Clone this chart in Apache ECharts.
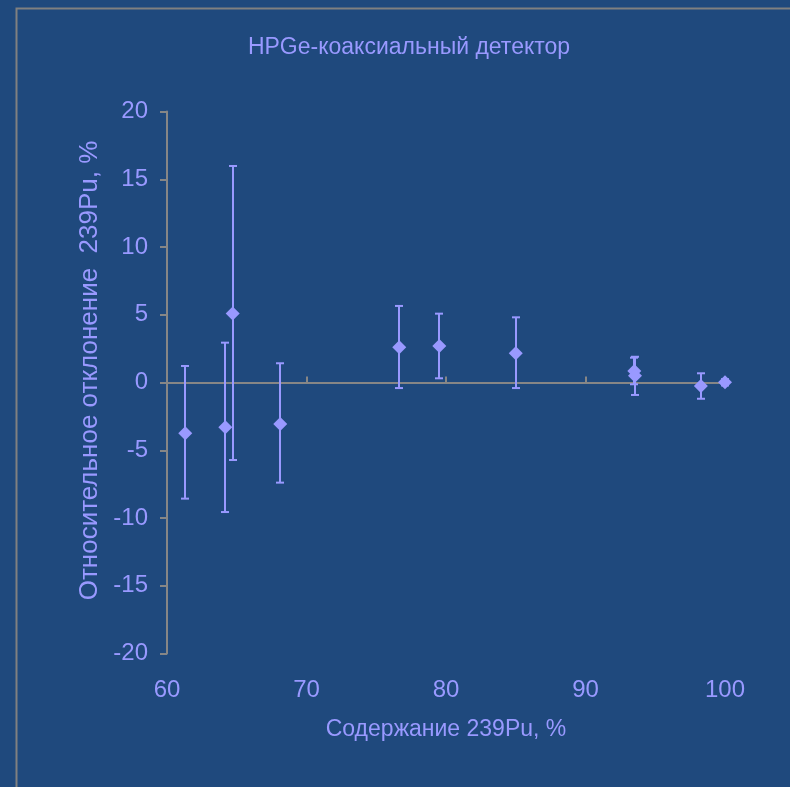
<!DOCTYPE html>
<html>
<head>
<meta charset="utf-8">
<script src="https://cdn.jsdelivr.net/npm/echarts@6/dist/echarts.min.js"></script>
<style>
html,body{margin:0;padding:0;background:#1F497D;}
#chart{width:790px;height:787px;}
</style>
</head>
<body>
<div id="chart"></div>
<script>
// Data
var xValues = [61.31, 64.18, 64.71, 68.12, 76.65, 79.52, 85.0, 93.5, 93.55, 98.27, 100.0];
var yValues = [-3.75, -3.31, 5.1, -3.06, 2.6, 2.69, 2.15, 0.85, 0.5, -0.26, 0.02];
var yUpper  = [1.22, 2.94, 15.98, 1.42, 5.65, 5.08, 4.81, 1.83, 1.9, 0.68, 0.25];
var yLower  = [-8.57, -9.56, -5.72, -7.39, -0.41, 0.31, -0.41, -0.13, -0.92, -1.2, -0.22];
var xTicks = [60, 70, 80, 90, 100];
var yTicks = [-20, -15, -10, -5, 0, 5, 10, 15, 20];

var titleText = 'HPGe-коаксиальный детектор';
var xName = 'Содержание 239Pu, %';
var yName = 'Относительное отклонение  239Pu, %';

var pts = xValues.map(function(x, i){ return [x, yValues[i]]; });
var errs = xValues.map(function(x, i){ return [x, yLower[i], yUpper[i]]; });

var FG = '#9999FF';
var AX = '#868686';
var FONT = 'Liberation Sans, Arial, sans-serif';

var chart = echarts.init(document.getElementById('chart'));
chart.setOption({
  backgroundColor: '#1F497D',
  animation: false,
  graphic: [{
    type: 'rect',
    shape: {x: 16.5, y: 8.5, width: 800, height: 800},
    style: {fill: 'none', stroke: '#808080', lineWidth: 2},
    silent: true
  }, {
    type: 'text',
    x: 409, y: 48,
    style: {text: titleText, fill: FG, fontSize: 23, fontFamily: FONT, align: 'center', verticalAlign: 'middle'},
    silent: true
  }],
  grid: {left: 167, top: 111.5, width: 558, height: 542, containLabel: false},
  xAxis: [{
    type: 'value', min: xTicks[0], max: xTicks[xTicks.length-1], interval: 10,
    position: 'bottom',
    axisLine: {show: false, onZero: false},
    axisTick: {show: false},
    splitLine: {show: false},
    axisLabel: {color: FG, fontSize: 24, fontFamily: FONT, margin: 25},
    name: xName, nameLocation: 'middle', nameGap: 65,
    nameTextStyle: {color: FG, fontSize: 23, fontFamily: FONT}
  }, {
    type: 'value', min: xTicks[0], max: xTicks[xTicks.length-1], interval: 10,
    position: 'bottom',
    axisLine: {show: true, onZero: true, lineStyle: {color: AX, width: 2}},
    axisTick: {show: true, inside: true, length: 6, lineStyle: {color: AX, width: 2}},
    axisLabel: {show: false},
    splitLine: {show: false}
  }],
  yAxis: {
    type: 'value', min: yTicks[0], max: yTicks[yTicks.length-1], interval: 5,
    axisLine: {show: true, onZero: false, lineStyle: {color: AX, width: 2}},
    axisTick: {show: true, inside: false, length: 7, lineStyle: {color: AX, width: 2}},
    splitLine: {show: false},
    axisLabel: {color: FG, fontSize: 24, fontFamily: FONT, margin: 19},
    name: yName, nameLocation: 'middle', nameGap: 62, nameRotate: 90,
    nameTextStyle: {color: FG, fontSize: 26, fontFamily: FONT, padding: [0, 0, 0, 24]}
  },
  series: [{
    type: 'custom',
    xAxisIndex: 0,
    data: errs,
    renderItem: function(params, api){
      var x = api.value(0);
      var lo = api.coord([x, api.value(1)]);
      var hi = api.coord([x, api.value(2)]);
      var px = Math.round(lo[0]);
      var cw = 4;
      var st = {stroke: FG, lineWidth: 2};
      return {type: 'group', children: [
        {type: 'line', shape: {x1: px, y1: lo[1], x2: px, y2: hi[1]}, style: st},
        {type: 'line', shape: {x1: px-cw, y1: lo[1], x2: px+cw, y2: lo[1]}, style: st},
        {type: 'line', shape: {x1: px-cw, y1: hi[1], x2: px+cw, y2: hi[1]}, style: st}
      ]};
    },
    z: 2
  }, {
    type: 'scatter',
    xAxisIndex: 0,
    data: pts,
    symbol: 'diamond',
    symbolSize: 14,
    itemStyle: {color: FG, opacity: 1},
    z: 3
  }]
});
</script>
</body>
</html>
